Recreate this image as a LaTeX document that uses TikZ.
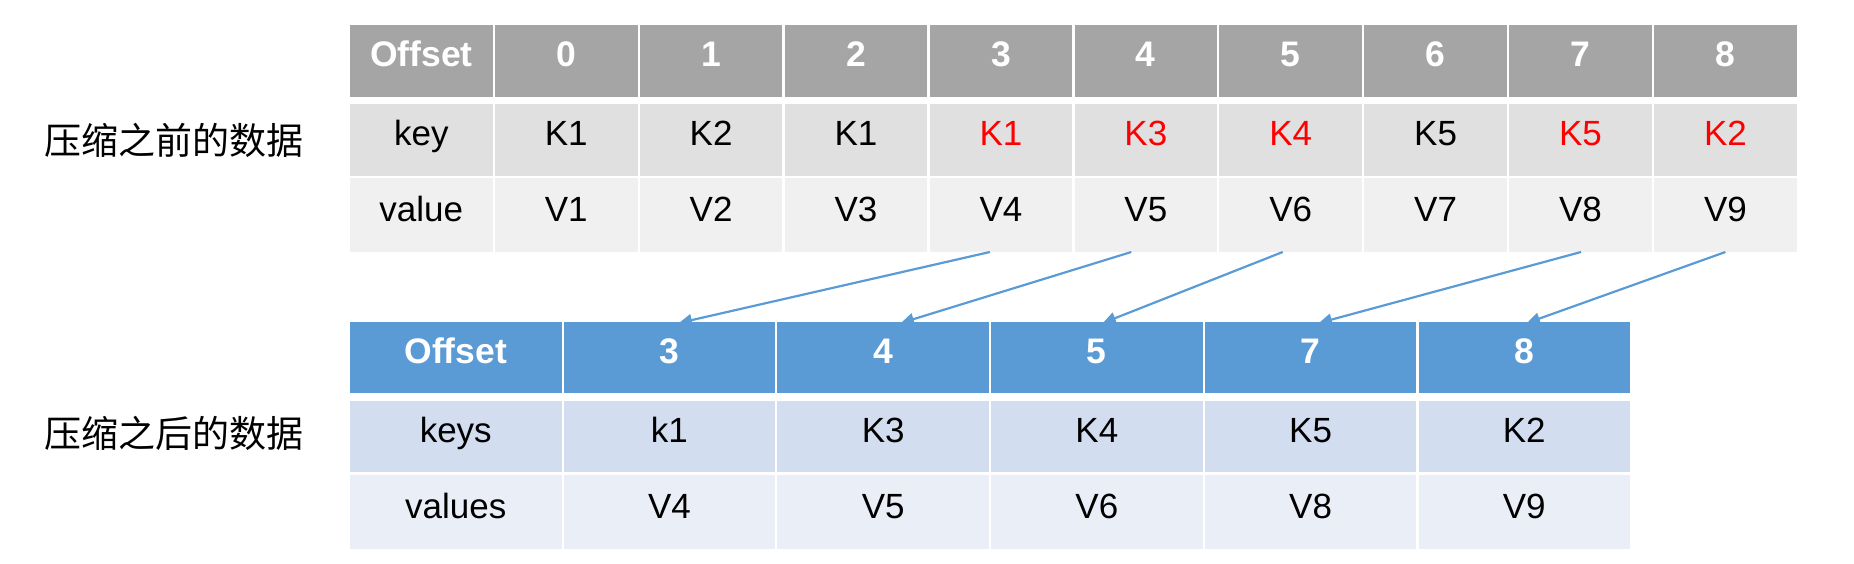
\documentclass[tikz,border=0pt]{standalone}
\usepackage{fontspec}
\setmainfont{Liberation Sans}
\newfontfamily\cjk{Noto Sans CJK SC}
\usetikzlibrary{arrows.meta}
\definecolor{hdrgray}{HTML}{A5A5A5}
\definecolor{keygray}{HTML}{E0E0E0}
\definecolor{valgray}{HTML}{F0F0F0}
\definecolor{hdrblue}{HTML}{5B9BD5}
\definecolor{keyblue}{HTML}{D2DEEF}
\definecolor{valblue}{HTML}{EAEFF7}
\definecolor{arrowblue}{HTML}{5B9BD5}
\definecolor{keyred}{HTML}{FF0000}
\begin{document}
\begin{tikzpicture}[x=1pt,y=-1pt,
  cell/.style={rectangle, inner sep=0pt, outer sep=0pt, anchor=west,
    text height=24pt, text depth=12pt, font=\fontsize{35}{40}\selectfont},
  topcell/.style={cell, minimum width=142.6pt},
  botcell/.style={cell, minimum width=211.5pt},
  thead/.style={topcell, fill=hdrgray, minimum height=72pt, text=white, font=\fontsize{35.5}{40}\selectfont\bfseries},
  tkey/.style={topcell, fill=keygray, minimum height=72pt},
  tval/.style={topcell, fill=valgray, minimum height=74pt},
  bhead/.style={botcell, fill=hdrblue, minimum height=71pt, text=white, font=\fontsize{35.5}{40}\selectfont\bfseries},
  bkey/.style={botcell, fill=keyblue, minimum height=71pt},
  bval/.style={botcell, fill=valblue, minimum height=74pt},
  sidelabel/.style={inner sep=0pt, anchor=west, font=\cjk\fontsize{37}{42}\selectfont},
  link/.style={draw=arrowblue, line width=2.2pt, -{Triangle[length=13pt,width=12pt]}}
]
\useasboundingbox (0,0) rectangle (1854,564);

% top table
\foreach \lab [count=\i from 0] in {Offset,0,1,2,3,4,5,6,7,8}
  \node[thead] (th\i) at (350+144.9*\i, 61) {\lab};
\foreach \lab/\col [count=\i from 0] in {key/black,K1/black,K2/black,K1/black,K1/keyred,K3/keyred,K4/keyred,K5/black,K5/keyred,K2/keyred}
  \node[tkey, text=\col] (tk\i) at (350+144.9*\i, 140) {\lab};
\foreach \lab [count=\i from 0] in {value,V1,V2,V3,V4,V5,V6,V7,V8,V9}
  \node[tval] (tv\i) at (350+144.9*\i, 215) {\lab};

% bottom table
\foreach \lab [count=\i from 0] in {Offset,3,4,5,7,8}
  \node[bhead] (bh\i) at (350+213.7*\i, 357.5) {\lab};
\foreach \lab [count=\i from 0] in {keys,k1,K3,K4,K5,K2}
  \node[bkey] (bk\i) at (350+213.7*\i, 436.5) {\lab};
\foreach \lab [count=\i from 0] in {values,V4,V5,V6,V8,V9}
  \node[bval] (bv\i) at (350+213.7*\i, 512) {\lab};

% side labels
\node[sidelabel] (before) at (44,140) {压缩之前的数据};
\node[sidelabel] (after) at (44,433) {压缩之后的数据};

% arrows
\draw[link] ([xshift=-11pt]tv4.south) -- ([xshift=9.5pt,yshift=-1pt]bh1.north);
\draw[link] ([xshift=-14.5pt]tv5.south) -- ([xshift=17.8pt,yshift=-1pt]bh2.north);
\draw[link] ([xshift=-8pt]tv6.south) -- ([xshift=6pt,yshift=-1pt]bh3.north);
\draw[link] ([xshift=0.5pt]tv8.south) -- ([xshift=8.4pt,yshift=-1pt]bh4.north);
\draw[link] ([xshift=0pt]tv9.south) -- ([xshift=2.7pt,yshift=-1pt]bh5.north);
\end{tikzpicture}
\end{document}
